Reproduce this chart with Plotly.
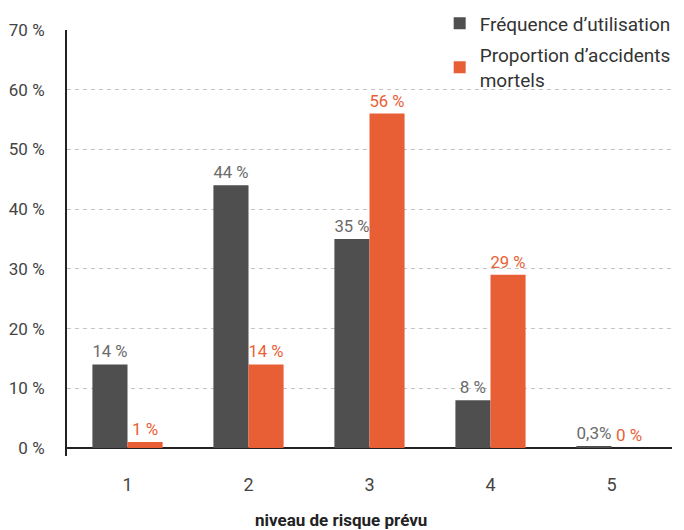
import plotly.graph_objects as go

categories = ["1", "2", "3", "4", "5"]
freq_values = [14, 44, 35, 8, 0.3]
freq_labels = ["14 %", "44 %", "35 %", "8 %", "0,3%"]
acc_values = [1, 14, 56, 29, 0]
acc_labels = ["1 %", "14 %", "56 %", "29 %", "0 %"]
y_ticks = [0, 10, 20, 30, 40, 50, 60, 70]
y_tick_labels = ["0 %", "10 %", "20 %", "30 %", "40 %", "50 %", "60 %", "70 %"]

DARK = "#4f4f4f"
ORANGE = "#e95f35"
FONT = "Roboto"

fig = go.Figure()
fig.add_trace(go.Bar(
    x=categories, y=freq_values, name="Fréquence d’utilisation",
    legendgroup="a",
    marker=dict(color=DARK, line=dict(width=0)),
    text=freq_labels, textposition="outside", cliponaxis=False,
    textfont=dict(family=FONT, size=17, color="#6b6b6b"),
))
fig.add_trace(go.Bar(
    x=categories, y=acc_values, name="Proportion d’accidents<br>mortels",
    legendgroup="b",
    marker=dict(color=ORANGE, line=dict(width=0)),
    text=acc_labels, textposition="outside", cliponaxis=False,
    textfont=dict(family=FONT, size=17, color=ORANGE),
))

fig.update_layout(
    width=684, height=530,
    margin=dict(l=59, r=20, t=22, b=82, autoexpand=False),
    paper_bgcolor="white", plot_bgcolor="white",
    font=dict(family=FONT, size=18, color="#444"),
    barmode="group", bargap=0.42, bargroupgap=0,
    showlegend=True,
    legend=dict(x=0.616, y=1.06, xanchor="left", yanchor="top",
                font=dict(family=FONT, size=19, color="#333"),
                bgcolor="rgba(0,0,0,0)", tracegroupgap=4, traceorder="grouped"),
    annotations=[dict(text="<b>niveau de risque prévu</b>", xref="paper", yref="paper",
                      x=0.453, y=-0.15, xanchor="center", yanchor="middle",
                      showarrow=False, font=dict(family=FONT, size=17, color="#222"))],
)
fig.update_xaxes(
    type="category", showline=False, showgrid=False, zeroline=False,
    ticks="outside", ticklen=12, tickcolor="rgba(0,0,0,0)",
    tickfont=dict(family=FONT, size=18, color="#444"),
)
fig.update_yaxes(
    range=[-1.34, 70], tickvals=y_ticks, ticktext=y_tick_labels,
    showline=True, linecolor="#222", linewidth=2,
    showgrid=True, gridcolor="#c4c4c4", griddash="4px,4px", gridwidth=1,
    zeroline=True, zerolinecolor="#222", zerolinewidth=2,
    ticks="outside", ticklen=17, tickcolor="rgba(0,0,0,0)",
    tickfont=dict(family=FONT, size=17, color="#444"),
)

fig.write_html("out.html")
